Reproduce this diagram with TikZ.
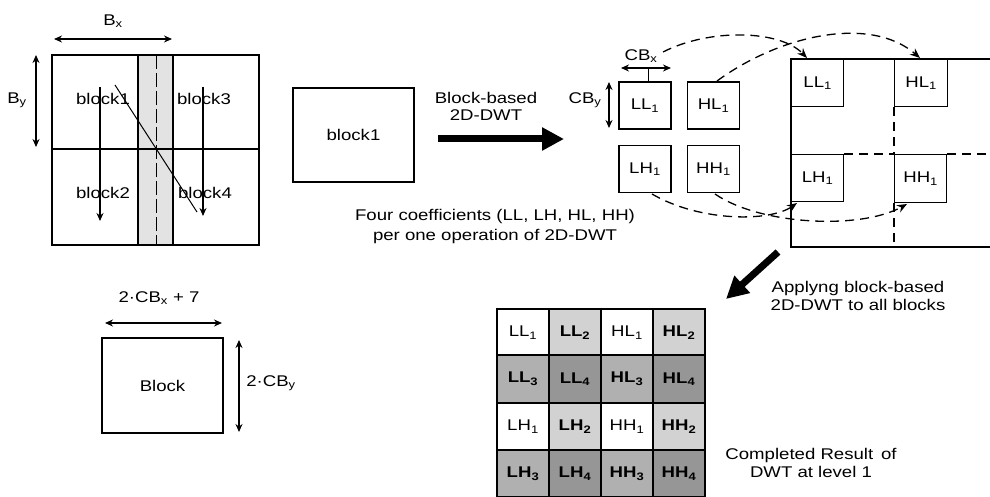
\documentclass[tikz,border=0pt]{standalone}
\usepackage{fontspec}
\setmainfont{Liberation Sans}[FakeStretch=1.2]
\usetikzlibrary{arrows.meta}
\tikzset{
  lbl/.style={inner sep=0pt, align=center},
  rbox/.style n args={2}{draw, line width=1.3pt, minimum width=#1, minimum height=#2, inner sep=0pt},
  dimarrow/.style={{Stealth[length=8pt,width=7pt]}-{Stealth[length=8pt,width=7pt]}, line width=1.3pt},
  downarrow/.style={-{Stealth[length=8pt,width=7pt]}, line width=1.2pt},
  bigarrow/.style={line width=7pt, -{Triangle[length=22pt,width=22pt]}},
  dcurve/.style={dash pattern=on 9pt off 6pt, line width=1.3pt, -{Stealth[length=10pt,width=8pt]}},
  cell/.style={draw, line width=2.2pt, minimum width=52pt, minimum height=47.5pt, inner sep=0pt},
  thinline/.style={line width=1.3pt},
  dline/.style={line width=1.3pt, dash pattern=on 9pt off 6pt},
}
\begin{document}
\begin{tikzpicture}[x=1pt,y=-1pt,font=\fontsize{15.5}{18}\selectfont]
\useasboundingbox (0,0) rectangle (990,497);

% ---------- left big image ----------
\fill[gray!22] (138,55) rectangle (173,245);
\node[rbox={207pt}{190pt}] (img) at (155.5,150) {};
\draw[thinline] (img.west |- 0,149) -- (img.east |- 0,149);
\draw[line width=2.5pt] (138,55) -- (138,245);
\draw[line width=2.5pt] (173,55) -- (173,245);
\draw[line width=1pt, dash pattern=on 14pt off 4pt] (156,55) -- (156,245);

\coordinate (a1s) at (100,87);  \coordinate (a1e) at (100,221);
\coordinate (a3s) at (203,87);  \coordinate (a3e) at (203,216);
\coordinate (dgs) at (115,85);  \coordinate (dge) at (197,212);
\draw[downarrow] (a1s) -- (a1e);
\draw[downarrow] (a3s) -- (a3e);
\draw[line width=1pt] (dgs) -- (dge);

\node[lbl] (b1) at (103,99) {block1};
\node[lbl] (b3) at (204,99) {block3};
\node[lbl] (b2) at (103,193) {block2};
\node[lbl] (b4) at (205,193) {block4};

\coordinate (bxl) at (54,39); \coordinate (bxr) at (172,39);
\draw[dimarrow] (bxl) -- (bxr);
\node[lbl] (bx) at (113,21) {B\textsubscript{x}};
\coordinate (byt) at (36,55); \coordinate (byb) at (36,147);
\draw[dimarrow] (byt) -- (byb);
\node[lbl] (by) at (17,100) {B\textsubscript{y}};

% ---------- block1 and transform arrow ----------
\node[rbox={121pt}{94pt}] (blk1) at (353.5,135) {block1};
\coordinate (t1s) at (438,139); \coordinate (t1e) at (564,139);
\draw[bigarrow] (t1s) -- (t1e);
\node[lbl] (t1l) at (486,106) {Block-based\\[-1pt]2D-DWT};
\node[lbl] (four) at (495,226) {Four coefficients (LL, LH, HL, HH)\\[2pt]per one operation of 2D-DWT};

% ---------- four small coefficient boxes ----------
\node[rbox={52pt}{47pt}] (sLL) at (645,105.5) {LL\textsubscript{1}};
\node[rbox={52pt}{47pt}] (sHL) at (713.5,105.5) {HL\textsubscript{1}};
\node[rbox={52pt}{47pt}] (sLH) at (645,169) {LH\textsubscript{1}};
\node[rbox={52pt}{47pt}] (sHH) at (713.5,169) {HH\textsubscript{1}};

\coordinate (cbxl) at (621,68); \coordinate (cbxr) at (671,68);
\draw[dimarrow] (cbxl) -- (cbxr);
\draw[line width=1pt] (648,68) -- (sLL.north -| 648,0);
\node[lbl] (cbx) at (641,56) {CB\textsubscript{x}};
\coordinate (cbyt) at (609,82); \coordinate (cbyb) at (609,128);
\draw[dimarrow] (cbyt) -- (cbyb);
\node[lbl] (cby) at (585,100) {CB\textsubscript{y}};

% ---------- large result frame ----------
\draw[thinline] (992,59) -- (791,59) -- (791,247) -- (992,247);
\node[rbox={52pt}{47pt}, anchor=north west] (bLL) at (791,59) {LL\textsubscript{1}};
\node[rbox={53pt}{47pt}, anchor=north west] (bHL) at (894,59) {HL\textsubscript{1}};
\node[rbox={52pt}{47pt}, anchor=north west] (bLH) at (791,154) {LH\textsubscript{1}};
\node[rbox={52pt}{48pt}, anchor=north west] (bHH) at (894,154) {HH\textsubscript{1}};
\draw[dline] (bHL.south west) -- (bHH.north west);
\draw[dline] (bHH.south west) -- (894,247);
\draw[dline] (bLH.north east) -- (bHH.north west);
\draw[dline] (bHH.north east) -- (992,154);

% dashed mapping curves
\coordinate (cLLs) at (663,52);  \coordinate (cLLe) at (807,58);
\coordinate (cHLs) at (717,81);  \coordinate (cHLe) at (920,58);
\coordinate (cLHs) at (652,194); \coordinate (cLHe) at (797,203);
\coordinate (cHHs) at (715,194); \coordinate (cHHe) at (907,204);
\draw[dcurve] (cLLs) .. controls (710,28) and (780,30) .. (cLLe);
\draw[dcurve] (cHLs) .. controls (780,35) and (870,15) .. (cHLe);
\draw[dcurve] (cLHs) .. controls (700,222) and (770,222) .. (cLHe);
\draw[dcurve] (cHHs) .. controls (760,225) and (860,230) .. (cHHe);

% ---------- apply to all blocks ----------
\coordinate (t2s) at (778,252); \coordinate (t2e) at (726,299);
\draw[bigarrow] (t2s) -- (t2e);
\node[lbl] (t2l) at (858,296) {Applyng block-based\\[0pt]2D-DWT to all blocks};

% ---------- completed result grid ----------
\node[cell, fill=white]   (g11) at (523,332.5) {LL\textsubscript{1}};
\node[cell, fill=gray!35] (g12) at (575,332.5) {\bfseries LL\textsubscript{2}};
\node[cell, fill=white]   (g13) at (627,332.5) {HL\textsubscript{1}};
\node[cell, fill=gray!35] (g14) at (679,332.5) {\bfseries HL\textsubscript{2}};
\node[cell, fill=gray!62] (g21) at (523,379) {\bfseries LL\textsubscript{3}};
\node[cell, fill=gray!82] (g22) at (575,379) {\bfseries LL\textsubscript{4}};
\node[cell, fill=gray!62] (g23) at (627,379) {\bfseries HL\textsubscript{3}};
\node[cell, fill=gray!82] (g24) at (679,379) {\bfseries HL\textsubscript{4}};
\node[cell, fill=white]   (g31) at (523,426.5) {LH\textsubscript{1}};
\node[cell, fill=gray!35] (g32) at (575,426.5) {\bfseries LH\textsubscript{2}};
\node[cell, fill=white]   (g33) at (627,426.5) {HH\textsubscript{1}};
\node[cell, fill=gray!35] (g34) at (679,426.5) {\bfseries HH\textsubscript{2}};
\node[cell, fill=gray!62] (g41) at (523,473.5) {\bfseries LH\textsubscript{3}};
\node[cell, fill=gray!82] (g42) at (575,473.5) {\bfseries LH\textsubscript{4}};
\node[cell, fill=gray!62] (g43) at (627,473.5) {\bfseries HH\textsubscript{3}};
\node[cell, fill=gray!82] (g44) at (679,473.5) {\bfseries HH\textsubscript{4}};
\node[lbl] (done) at (811,463) {Completed Result\,\ of\\[0pt]DWT at level 1};

% ---------- block size ----------
\node[rbox={121pt}{95pt}] (blk) at (162.5,385.5) {Block};
\coordinate (bwl) at (105,323); \coordinate (bwr) at (222,323);
\draw[dimarrow] (bwl) -- (bwr);
\node[lbl] (bw) at (159,298) {2·CB\textsubscript{x} + 7};
\coordinate (bht) at (239,340); \coordinate (bhb) at (239,432);
\draw[dimarrow] (bht) -- (bhb);
\node[lbl] (bh) at (271,383) {2·CB\textsubscript{y}};
\end{tikzpicture}
\end{document}
